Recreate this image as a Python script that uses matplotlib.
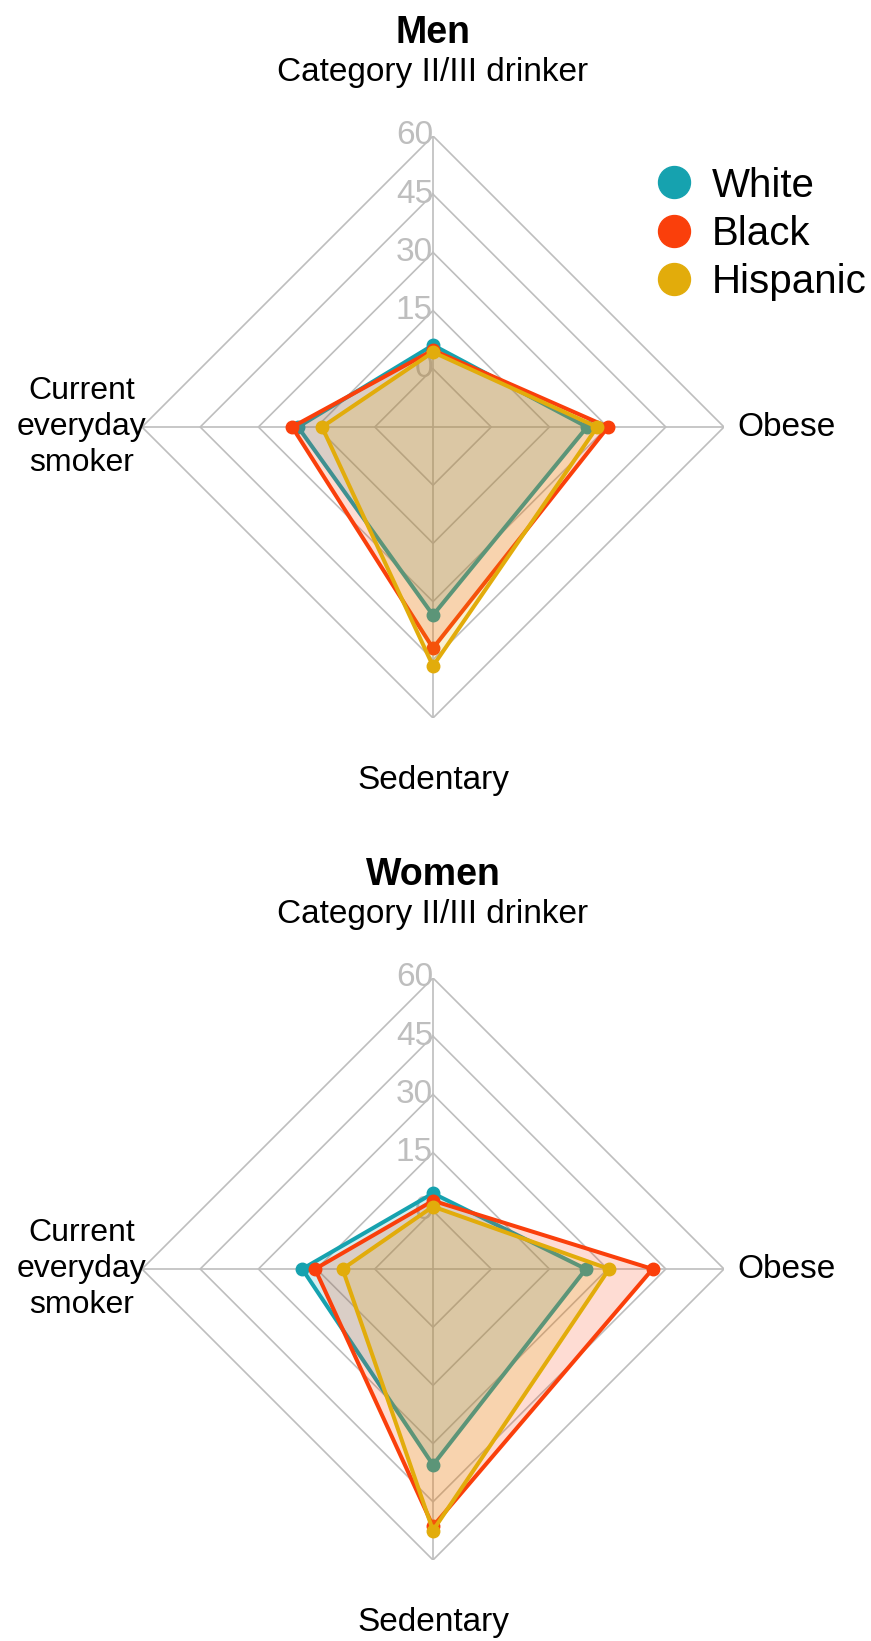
import numpy as np
import matplotlib.pyplot as plt
from matplotlib.lines import Line2D

plt.rcParams['font.family'] = ['Liberation Sans', 'DejaVu Sans']

axes_labels = ["Category II/III drinker", "Current\neveryday\nsmoker", "Sedentary", "Obese"]
groups = ["White", "Black", "Hispanic"]
colors = ["#16A2AF", "#FA3F0B", "#E2AC0B"]
ticks = [0, 15, 30, 45, 60]

# values per group, order: drinker, smoker, sedentary, obese
men = {
    "White": [6.1, 19.8, 33.5, 24.7],
    "Black": [4.8, 21.3, 42.0, 30.1],
    "Hispanic": [4.3, 13.6, 46.6, 27.3],
}
women = {
    "White": [4.5, 18.7, 35.5, 24.4],
    "Black": [2.6, 15.4, 51.3, 41.6],
    "Hispanic": [1.1, 8.3, 52.4, 30.4],
}
titles = ["Men", "Women"]

W, H = 871, 1641
fig = plt.figure(figsize=(W / 100, H / 100), dpi=100)

theta = np.arange(4) * np.pi / 2
theta_c = np.append(theta, theta[0])
R = 291
centers = [427, 1269]
grid_col = "#BEBEBE"

for k, data in enumerate([men, women]):
    cy = centers[k]
    ax = fig.add_axes([(433 - R) / W, (H - cy - R) / H, 2 * R / W, 2 * R / H], projection="polar")
    ax.set_theta_offset(np.pi / 2)
    ax.set_ylim(-15, 60)
    ax.grid(False)
    ax.set_xticks([])
    ax.set_yticks([])
    ax.spines["polar"].set_visible(False)
    ax.patch.set_alpha(0)

    for v in ticks:
        ax.plot(theta_c, [v] * 5, color=grid_col, lw=1.2, zorder=1)
    for t in theta:
        ax.plot([t, t], [-15, 60], color=grid_col, lw=1.2, zorder=1)
    for v in ticks:
        ax.text(0, v, str(v), ha="right", va="center", color=grid_col, fontsize=24, zorder=1)

    for g, c in zip(groups, colors):
        vals = data[g] + data[g][:1]
        ax.fill(theta_c, vals, color=c, alpha=0.18, lw=0, zorder=3)
        ax.plot(theta_c, vals, color=c, lw=2.9, zorder=3)
        ax.plot(theta, data[g], "o", color=c, ms=9, zorder=3)

    ax.text(theta[0], 76.3, axes_labels[0], ha="center", va="center", fontsize=24)
    ax.text(theta[1], 75.5, axes_labels[1], ha="center", va="center", fontsize=23, linespacing=1.25)
    ax.text(theta[2], 76, axes_labels[2], ha="center", va="center", fontsize=24)
    ax.text(theta[3], 76, axes_labels[3], ha="center", va="center", fontsize=24)

    ax.text(0.5, 1.177, titles[k], transform=ax.transAxes, ha="center", va="center",
            fontsize=27, fontweight="bold")

handles = [Line2D([], [], marker="o", ls="none", color=c, ms=23) for c in colors]
fig.legend(handles, groups, loc="center left", bbox_to_anchor=(0.755, 1 - 234 / H),
           frameon=False, fontsize=29, handlelength=0.8, handletextpad=0.55,
           labelspacing=0.26, borderpad=0, borderaxespad=0)

fig.savefig("out.png", dpi=100)
